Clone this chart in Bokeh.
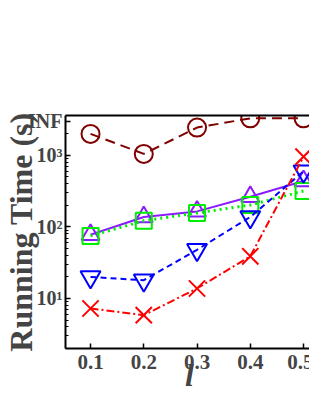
from bokeh.plotting import figure
from bokeh.models import FixedTicker, CustomJSTickFormatter, LinearAxis
from bokeh.embed import file_html
from bokeh.resources import INLINE

# ---- data ----
l_values = [0.1, 0.2, 0.3, 0.4, 0.5]
s_circle = [2000, 1050, 2450, 3300, 3300]
s_triangle = [78, 138, 165, 265, 440]
s_square = [75, 122, 157, 203, 318]
s_invtri = [20, 18, 48, 138, 600]
s_cross = [7.25, 5.85, 13.8, 38.9, 960]

x_ticks = [0.1, 0.2, 0.3, 0.4, 0.5]
x_tick_labels = ["0.1", "0.2", "0.3", "0.4", "0.5"]
y_ticks = [10, 100, 1000, 3000]
y_tick_labels = ["10\u00b9", "10\u00b2", "10\u00b3", "INF"]

FONT = "Liberation Serif"
X0, X1 = 0.053, 0.5187

p = figure(frame_width=248, frame_height=233, y_axis_type="log",
           x_range=(X0, X1), y_range=(2.0, 3615),
           output_backend="svg", toolbar_location=None,
           min_border_left=61, min_border_right=0,
           min_border_top=115, min_border_bottom=52)
p.outline_line_color = None
p.xgrid.visible = False
p.ygrid.visible = False
p.background_fill_color = "white"

# series
p.line(l_values, s_circle, color="#800000", line_width=2, line_dash="10 6")
p.scatter(l_values, s_circle, marker="circle", size=18, line_color="#800000",
          fill_color=None, line_width=2)

p.line(l_values, s_triangle, color="#8C1AFF", line_width=2)
p.scatter(l_values, s_triangle, marker="triangle", size=18, line_color="#8C1AFF",
          fill_color=None, line_width=2)

p.line(l_values, s_square, color="#00EE00", line_width=3, line_dash="2 4")
p.scatter(l_values, s_square, marker="square", size=16, line_color="#00EE00",
          fill_color=None, line_width=2)

p.line(l_values, s_invtri, color="#0000FF", line_width=2, line_dash="6 4")
p.scatter(l_values, s_invtri, marker="inverted_triangle", size=20, line_color="#0000FF",
          fill_color=None, line_width=2)

p.line(l_values, s_cross, color="#FF0000", line_width=2, line_dash="8 3 2 3")
p.scatter(l_values, s_cross, marker="x", size=23, line_color="#FF0000",
          line_width=2)

# x axis
xa = p.xaxis[0]
xa.ticker = FixedTicker(ticks=x_ticks, minor_ticks=[])
xa.formatter = CustomJSTickFormatter(args=dict(vals=x_ticks, labs=x_tick_labels),
    code="for (let i=0;i<vals.length;i++){ if (Math.abs(vals[i]-tick)<1e-9) return labs[i]; } return '';")
xa.axis_label = "l"
xa.axis_label_text_font = FONT
xa.axis_label_text_font_style = "bold italic"
xa.axis_label_text_font_size = "32px"
xa.axis_label_standoff = -15
xa.major_label_text_font = FONT
xa.major_label_text_font_style = "bold"
xa.major_label_text_font_size = "21px"
xa.major_label_standoff = 6
xa.major_tick_in = 5
xa.major_tick_out = 0
xa.axis_line_width = 2
xa.major_tick_line_width = 1.5

# y axis
minor = [m * 10 ** e for e in range(0, 4) for m in range(2, 10) if m * 10 ** e < 3615]
ya = p.yaxis[0]
ya.ticker = FixedTicker(ticks=y_ticks, minor_ticks=minor)
ya.formatter = CustomJSTickFormatter(args=dict(vals=y_ticks, labs=y_tick_labels),
    code="for (let i=0;i<vals.length;i++){ if (Math.abs(vals[i]-tick)<1e-6*vals[i]) return labs[i]; } return '';")
ya.axis_label = "Running Time (s)"
ya.axis_label_text_font = FONT
ya.axis_label_text_font_style = "bold"
ya.axis_label_text_font_size = "32px"
ya.axis_label_standoff = -14
ya.major_label_text_font = FONT
ya.major_label_text_font_style = "bold"
ya.major_label_text_font_size = "20px"
ya.major_label_standoff = 3
ya.major_tick_in = 5
ya.major_tick_out = 0
ya.minor_tick_in = 3
ya.minor_tick_out = 0
ya.axis_line_width = 2
ya.major_tick_line_width = 1.5

# top border line (no ticks, no labels)
top = LinearAxis(ticker=FixedTicker(ticks=[], minor_ticks=[]),
                 major_tick_line_color=None, minor_tick_line_color=None,
                 axis_line_width=2)
p.add_layout(top, "above")

open("out.html", "w").write(file_html(p, INLINE))
